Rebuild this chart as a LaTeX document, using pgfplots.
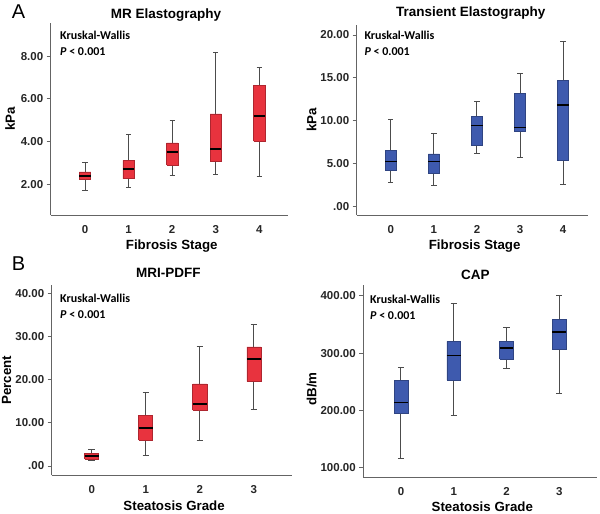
\documentclass[border=0pt]{standalone}
\usepackage{fontspec}
\setmainfont{Liberation Sans}
\newfontfamily\calfont{Carlito}
\usepackage{pgfplots}
\usepackage{pgfplotstable}
\pgfplotsset{compat=1.18}
\definecolor{rfill}{RGB}{232,51,62}
\definecolor{bfill}{RGB}{62,90,174}
\definecolor{axg}{RGB}{100,100,100}

\pgfplotstableread{
pos lw lq med uq uw
0 1.72 2.22 2.375 2.58 3.00
1 1.83 2.27 2.72 3.125 4.33
2 2.41 2.91 3.52 3.94 5.00
3 2.45 3.08 3.66 5.30 8.20
4 2.375 4.02 5.19 6.63 7.48
}\mretab
\pgfplotstableread{
pos lw lq med uq uw
0 2.76 4.19 5.28 6.56 10.10
1 2.45 3.88 5.28 6.14 8.54
2 6.17 7.18 9.44 10.56 12.31
3 5.71 8.74 9.24 13.20 15.53
4 2.60 5.44 11.84 14.68 19.22
}\tetab
\pgfplotstableread{
pos lw lq med uq uw
0 1.30 1.62 2.24 2.86 3.79
1 2.48 6.03 8.82 11.68 16.94
2 5.96 12.92 14.31 19.03 27.78
3 13.15 19.65 24.76 27.62 32.88
}\pdfftab
\pgfplotstableread{
pos lw lq med uq uw
0 116.4 195.6 213.6 252.6 274.2
1 190.3 253.2 295.7 320.8 386.6
2 273.0 289.9 308.6 320.8 344.7
3 230.0 306.2 336.5 359.2 400.0
}\captab

\pgfplotsset{
  myax/.style={
    scale only axis,
    axis x line=bottom, axis y line=left,
    axis line style={axg, line width=0.9pt, -},
    tick label style={font=\bfseries\fontsize{11.5}{12}\selectfont, text=black!85},
    xtick style={draw=none},
    ytick style={axg, line width=0.9pt},
    tick align=outside, major tick length=4pt,
    xticklabel style={yshift=-3pt},
    every axis x label/.style={at={(axis description cs:0.51,0)}, anchor=base, yshift=-35pt, font=\bfseries\fontsize{13.3}{14}\selectfont},
    every axis y label/.style={rotate=90, anchor=center, font=\bfseries\fontsize{13.3}{14}\selectfont},
    every axis title/.style={anchor=base, font=\bfseries\fontsize{13.5}{14}\selectfont},
    clip=false,
  },
  whisk/.style={draw=black!70, line width=1pt},
}

\newcommand{\boxes}[3]{% table, last index, fill colour
  \pgfplotsinvokeforeach{0,...,#2}{
    \pgfplotstablegetelem{##1}{lw}\of#1\let\vlw\pgfplotsretval
    \pgfplotstablegetelem{##1}{lq}\of#1\let\vlq\pgfplotsretval
    \pgfplotstablegetelem{##1}{med}\of#1\let\vmed\pgfplotsretval
    \pgfplotstablegetelem{##1}{uq}\of#1\let\vuq\pgfplotsretval
    \pgfplotstablegetelem{##1}{uw}\of#1\let\vuw\pgfplotsretval
    \pgfplotstablegetelem{##1}{pos}\of#1\let\vpos\pgfplotsretval
    \pgfmathsetmacro\bxl{\vpos-0.13}\pgfmathsetmacro\bxr{\vpos+0.13}
    \pgfmathsetmacro\cpl{\vpos-0.06}\pgfmathsetmacro\cpr{\vpos+0.06}
    \edef\doplot{%
      \noexpand\addplot[whisk] coordinates {(\vpos,\vuq) (\vpos,\vuw)};
      \noexpand\addplot[whisk] coordinates {(\vpos,\vlq) (\vpos,\vlw)};
      \noexpand\addplot[whisk] coordinates {(\cpl,\vuw) (\cpr,\vuw)};
      \noexpand\addplot[whisk] coordinates {(\cpl,\vlw) (\cpr,\vlw)};
      \noexpand\addplot[fill=#3, draw=#3!75!black, line width=0.6pt, line join=miter] coordinates {(\bxl,\vlq) (\bxr,\vlq) (\bxr,\vuq) (\bxl,\vuq) (\bxl,\vlq)};
      \noexpand\addplot[draw=black, line width=1.6pt] coordinates {(\bxl,\vmed) (\bxr,\vmed)};
    }%
    \doplot
  }
}

\begin{document}
\begin{tikzpicture}
\useasboundingbox (0,0) rectangle (600pt,514pt);

% Panel A1
\begin{axis}[myax, name=p1, at={(50.7pt,299pt)}, anchor=south west, width=237.3pt, height=192pt,
  xmin=-0.79, xmax=4.66, ymin=0.56, ymax=9.56,
  xtick={0,1,2,3,4}, xticklabels={0,1,2,3,4},
  ytick={2,4,6,8}, yticklabels={2.00,4.00,6.00,8.00},
  xlabel={Fibrosis Stage}, ylabel={kPa},
  ylabel style={at={(axis description cs:-0.171,0.5)}},
  title={MR Elastography}, title style={at={(axis description cs:0.486,1)}, yshift=4pt}]
\boxes{\mretab}{4}{rfill}
\end{axis}

% Panel A2
\begin{axis}[myax, name=p2, at={(356.7pt,299pt)}, anchor=south west, width=231.3pt, height=190pt,
  xmin=-0.795, xmax=4.58, ymin=-0.97, ymax=21.17,
  xtick={0,1,2,3,4}, xticklabels={0,1,2,3,4},
  ytick={0,5,10,15,20}, yticklabels={.00,5.00,10.00,15.00,20.00},
  xlabel={Fibrosis Stage}, ylabel={kPa},
  ylabel style={at={(axis description cs:-0.195,0.5)}},
  title={Transient Elastography}, title style={at={(axis description cs:0.493,1)}, yshift=8.3pt}]
\boxes{\tetab}{4}{bfill}
\end{axis}

% Panel B1
\begin{axis}[myax, name=p3, at={(51.7pt,38.7pt)}, anchor=south west, width=240pt, height=190pt,
  xmin=-0.74, xmax=3.70, ymin=-2.17, ymax=41.93,
  xtick={0,1,2,3}, xticklabels={0,1,2,3},
  ytick={0,10,20,30,40}, yticklabels={.00,10.00,20.00,30.00,40.00},
  xlabel={Steatosis Grade}, ylabel={Percent},
  ylabel style={at={(axis description cs:-0.1875,0.5)}},
  title={MRI-PDFF}, title style={at={(axis description cs:0.486,1)}, yshift=8.3pt}]
\boxes{\pdfftab}{3}{rfill}
\end{axis}

% Panel B2
\begin{axis}[myax, name=p4, at={(363.3pt,37pt)}, anchor=south west, width=233.4pt, height=191.7pt,
  xmin=-0.714, xmax=3.71, ymin=83.7, ymax=418.6,
  xtick={0,1,2,3}, xticklabels={0,1,2,3},
  ytick={100,200,300,400}, yticklabels={100.00,200.00,300.00,400.00},
  xlabel={Steatosis Grade}, ylabel={dB/m},
  ylabel style={at={(axis description cs:-0.221,0.46)}},
  title={CAP}, title style={at={(axis description cs:0.48,1)}, yshift=5.6pt}]
\boxes{\captab}{3}{bfill}
\end{axis}

% Kruskal-Wallis annotations
\foreach \p/\dx/\dy in {p1/9.3/17, p2/7.6/15, p3/8.3/17.4, p4/6.7/18.4}{
  \node[anchor=base west, inner sep=0pt, font=\calfont\bfseries\fontsize{12}{13}\selectfont] at ([xshift=\dx pt, yshift=-\dy pt]\p.north west) {Kruskal-Wallis};
  \node[anchor=base west, inner sep=0pt, font=\calfont\bfseries\fontsize{12}{13}\selectfont] at ([xshift=\dx pt, yshift=-\dy pt-15.5pt]\p.north west) {{\itshape P} < 0.001};
}

% Panel letters
\node[anchor=base west, inner sep=0pt, font=\fontsize{20}{22}\selectfont] at (11.7pt,495pt) {A};
\node[anchor=base west, inner sep=0pt, font=\fontsize{20}{22}\selectfont] at (11.7pt,243pt) {B};
\end{tikzpicture}
\end{document}
